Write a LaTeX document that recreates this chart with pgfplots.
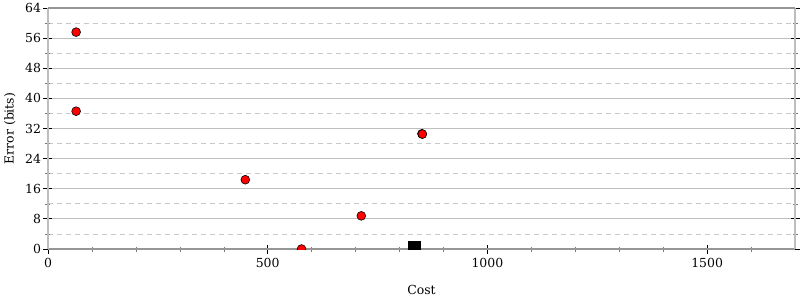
\documentclass[border=0pt]{standalone}
\usepackage{fontspec}
\setmainfont{DejaVu Serif}
\usepackage{pgfplots}
\pgfplotsset{compat=1.18}
\definecolor{axgray}{RGB}{150,150,150}
\definecolor{lgray}{RGB}{190,190,190}
\definecolor{mgray}{RGB}{200,200,200}
\begin{document}
\begin{tikzpicture}
\begin{axis}[
  at={(0,0)}, anchor=origin,
  scale only axis, width=747bp, height=241bp,
  xmin=0, xmax=1700, ymin=0, ymax=64,
  xtick={0,500,1000,1500},
  minor xtick={100,200,300,400,600,700,800,900,1100,1200,1300,1400,1600},
  ytick={0,8,...,64},
  minor ytick={4,12,...,60},
  xtick pos=bottom, ytick pos=both,
  tick align=center,
  major tick length=9bp, minor tick length=5bp,
  every tick/.style={black, line width=0.8pt},
  minor tick style={axgray!80!black, line width=0.5pt},
  ymajorgrids, yminorgrids,
  major grid style={lgray, line width=0.8pt},
  minor grid style={mgray, dashed, line width=0.7pt, dash pattern=on 5bp off 4bp},
  axis line style={lgray, line width=2pt},
  separate axis lines,
  x axis line style={axgray},
  clip marker paths=true,
  tick label style={font=\fontsize{12.5}{14}\selectfont},
  label style={font=\fontsize{12.5}{14}\selectfont},
  /pgf/number format/assume math mode=true,
  /pgf/number format/1000 sep={},
  xlabel={Cost}, ylabel={Error (bits)},
  xlabel style={at={(axis description cs:0.5,-0.17)}, anchor=center},
  ylabel style={at={(axis description cs:-0.051,0.5)}, anchor=center},
  xticklabel style={yshift=-1bp},
  yticklabel style={xshift=1bp},
]
\addplot[only marks, mark=*, mark size=4.4bp, mark options={fill=red, draw=black, line width=0.6pt}]
  coordinates {(64,57.6) (64,36.6) (449,18.4) (577,0) (713,8.8) (851,30.6) (852,30.5)};
\addplot[only marks, mark=square*, mark size=6bp, mark options={fill=black, draw=black}]
  coordinates {(834,0.5)};
\draw[axgray, line width=2.5pt] (axis cs:0,64) -- (axis cs:1700,64);
\end{axis}
\pgfresetboundingbox
\useasboundingbox (-48bp,-51bp) rectangle (752bp,249bp);
\end{tikzpicture}
\end{document}
